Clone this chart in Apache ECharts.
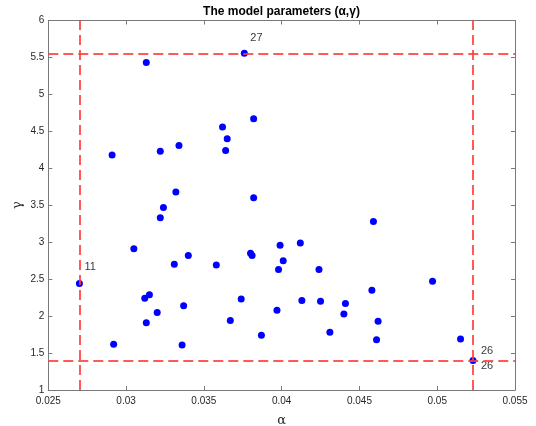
<!DOCTYPE html>
<html>
<head>
<meta charset="utf-8">
<script src="https://cdn.jsdelivr.net/npm/echarts@6/dist/echarts.min.js"></script>
<style>
html,body{margin:0;padding:0;background:#fff;}
#c{width:536px;height:426px;}
</style>
</head>
<body>
<div id="c"></div>
<script>
// ---- data ----
const alpha = [0.0313,0.0376,0.0291,0.0322,0.0334,0.0362,0.0365,0.0364,0.0382,0.0332,
               0.0382,0.0324,0.0322,0.0305,0.0331,0.0340,0.0358,0.0380,0.0381,0.0270,
               0.0312,0.0315,0.0320,0.0313,0.0337,0.0374,0.0367,0.0292,0.0336,0.0387,
               0.0459,0.0399,0.0412,0.0401,0.0398,0.0424,0.0497,0.0458,0.0413,0.0425,
               0.0441,0.0397,0.0440,0.0462,0.0431,0.0461,0.0515,0.0523];
const gamma = [5.43,5.556,4.18,4.23,4.31,4.56,4.40,4.24,4.67,3.68,
               3.60,3.47,3.33,2.91,2.70,2.82,2.69,2.85,2.82,2.44,
               2.24,2.29,2.05,1.91,2.14,2.23,1.94,1.62,1.61,1.74,
               3.28,2.96,2.99,2.75,2.63,2.63,2.47,2.35,2.21,2.20,
               2.17,2.08,2.03,1.93,1.78,1.68,1.69,1.40];
const xTicks = [0.025,0.03,0.035,0.04,0.045,0.05,0.055];
const yTicks = [1,1.5,2,2.5,3,3.5,4,4.5,5,5.5,6];
const annotText = ['27','11','26','26'];
const titleText = 'The model parameters (\u03b1,\u03b3)';
const xName = '\u03b1';
const yName = '\u03b3';

// ---- derived ----
const alphaMin = Math.min(...alpha), alphaMax = Math.max(...alpha);
const gammaMin = Math.min(...gamma), gammaMax = Math.max(...gamma);
const iGMax = gamma.indexOf(gammaMax), iAMin = alpha.indexOf(alphaMin);
const iAMax = alpha.indexOf(alphaMax), iGMin = gamma.indexOf(gammaMin);
const annotIdx = [iGMax, iAMin, iAMax, iGMin];
const annotOffsets = [[6,-15],[5,-17],[8,-9],[8,6]];

const pts = alpha.map((a,i)=>[a,gamma[i]]);
const annotData = annotIdx.map((k,j)=>({
  value:[alpha[k],gamma[k]],
  label:{show:true,formatter:annotText[j],position:'inside',align:'left',verticalAlign:'middle',offset:annotOffsets[j]}
}));

const font = '"Liberation Sans", Arial, Helvetica, sans-serif';
const serif = '"DejaVu Serif","Liberation Serif",serif';
const axisCol = '#7a7a7a';
const txtCol = '#262626';
const fmt = v => String(Number(v.toFixed(4)));

const chart = echarts.init(document.getElementById('c'), null, {renderer:'canvas'});
const baseX = {type:'value',min:xTicks[0],max:xTicks[xTicks.length-1],interval:xTicks[1]-xTicks[0],
  splitLine:{show:false},axisLine:{show:true,onZero:false,lineStyle:{color:axisCol,width:1}},
  axisTick:{show:true,inside:true,length:4,lineStyle:{color:axisCol}}};
const baseY = {type:'value',min:yTicks[0],max:yTicks[yTicks.length-1],interval:yTicks[1]-yTicks[0],
  splitLine:{show:false},axisLine:{show:true,onZero:false,lineStyle:{color:axisCol,width:1}},
  axisTick:{show:true,inside:true,length:4,lineStyle:{color:axisCol}}};

chart.setOption({
  animation:false,
  backgroundColor:'#fff',
  title:{text:titleText,left:281.5,top:6,padding:0,textAlign:'center',
    textStyle:{fontFamily:font,fontSize:12,fontWeight:'bold',color:'#000'}},
  grid:{left:48.3,right:21,top:20.5,bottom:36,containLabel:false,outerBoundsMode:'none'},
  graphic:[{type:'text',x:18,y:205,rotation:Math.PI/2,
    style:{text:yName,font:'13px '+serif,fill:txtCol,align:'center',verticalAlign:'middle'}}],
  xAxis:[
    Object.assign({},baseX,{position:'bottom',name:xName,nameLocation:'middle',nameGap:24,nameMoveOverlap:false,
      nameTextStyle:{fontFamily:serif,fontSize:13,color:txtCol},
      axisLabel:{show:true,fontFamily:font,fontSize:10,color:txtCol,margin:6,formatter:fmt}}),
    Object.assign({},baseX,{position:'top',axisLabel:{show:false}})
  ],
  yAxis:[
    Object.assign({},baseY,{position:'left',
      axisLabel:{show:true,fontFamily:font,fontSize:10,color:txtCol,margin:4,formatter:fmt}}),
    Object.assign({},baseY,{position:'right',axisLabel:{show:false}})
  ],
  series:[
    {type:'scatter',xAxisIndex:0,yAxisIndex:0,data:[],z:1,
      markLine:{silent:true,precision:6,symbol:['none','none'],label:{show:false},
        lineStyle:{color:'rgba(255,60,60,0.85)',width:2,type:[10,5]},
        data:[{xAxis:alphaMin},{xAxis:alphaMax},{yAxis:gammaMin},{yAxis:gammaMax}]}},
    {type:'scatter',xAxisIndex:0,yAxisIndex:0,data:pts,symbol:'circle',symbolSize:7,
      itemStyle:{color:'#0000ff',opacity:1},z:3},
    {type:'scatter',xAxisIndex:0,yAxisIndex:0,data:annotData,symbolSize:1,
      itemStyle:{color:'rgba(0,0,0,0)'},z:4,
      label:{show:true,fontFamily:font,fontSize:11,color:'#000'}}
  ]
});
</script>
</body>
</html>
